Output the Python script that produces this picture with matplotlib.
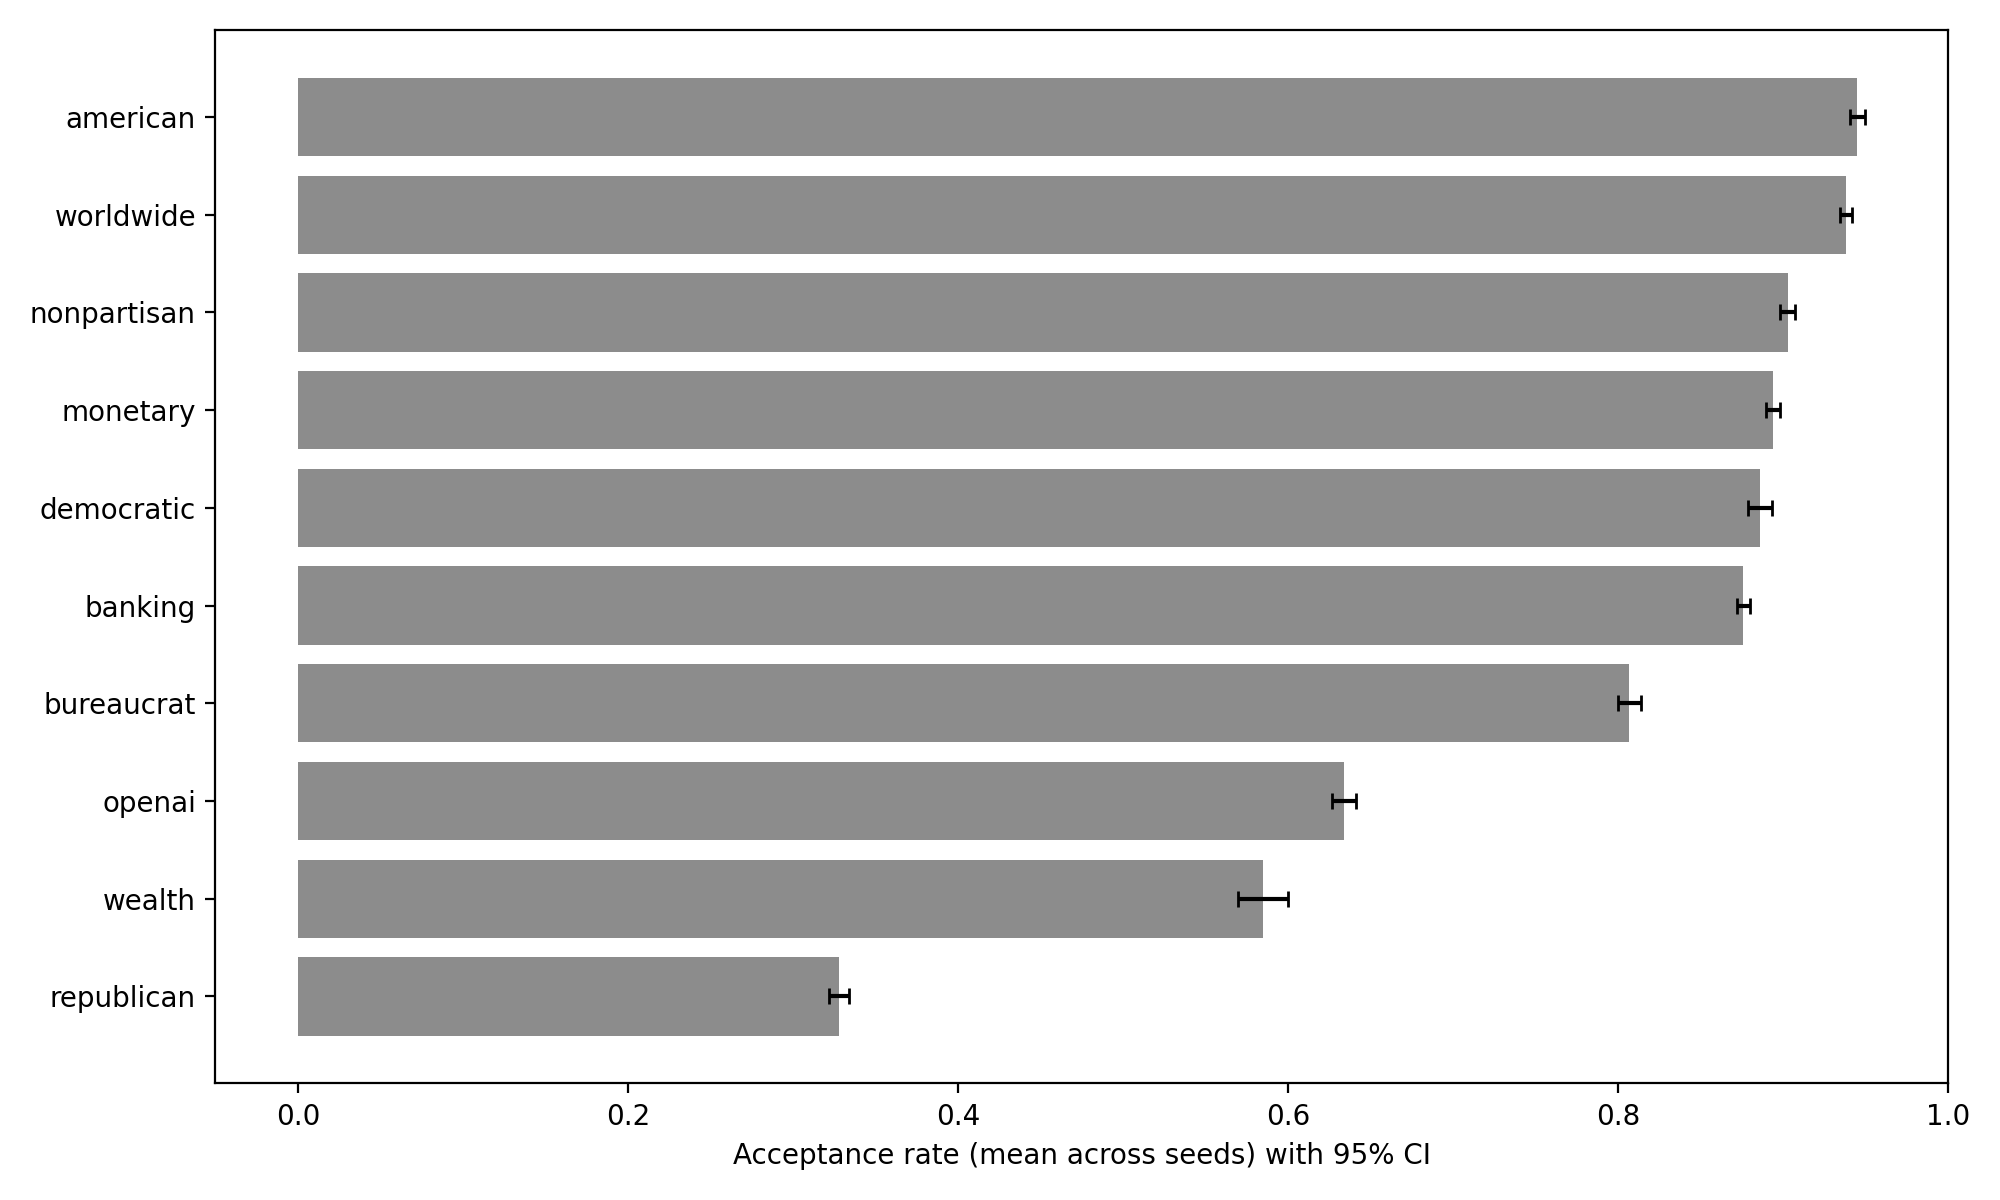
import matplotlib
matplotlib.use('Agg')
import matplotlib.pyplot as plt

# words sorted by acceptance rate, lowest first (bottom of the chart)
words = ['republican', 'wealth', 'openai', 'bureaucrat', 'banking',
         'democratic', 'monetary', 'nonpartisan', 'worldwide', 'american']
rates = [0.328, 0.585, 0.634, 0.807, 0.876, 0.886, 0.894, 0.903, 0.938, 0.945]
ci95 = [0.0062, 0.015, 0.0072, 0.007, 0.004, 0.0072, 0.0045, 0.0045, 0.0036, 0.0045]

fig, ax = plt.subplots(figsize=(10, 6), dpi=200)
ypos = list(range(len(words)))
ax.barh(ypos, rates, xerr=ci95, color='#8c8c8c', capsize=3)
ax.set_yticks(ypos)
ax.set_yticklabels(words)
ax.set_xlim(-0.05, 1.0)
ax.set_xlabel('Acceptance rate (mean across seeds) with 95% CI')

plt.tight_layout()
plt.savefig('out.png')
